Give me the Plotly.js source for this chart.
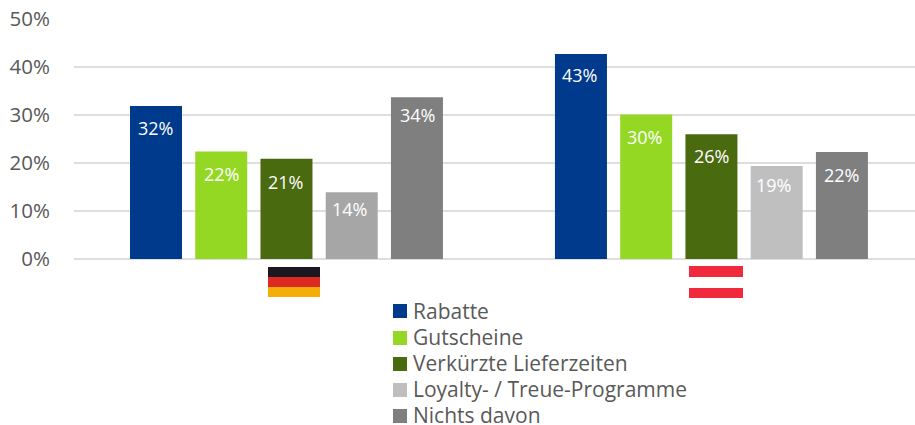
<!DOCTYPE html>
<html><head><meta charset="utf-8">
<script src="https://cdn.plot.ly/plotly-3.0.1.min.js"></script>
<style>html,body{margin:0;padding:0;background:#fff}</style></head>
<body><div id="chart" style="width:915px;height:425px"></div>
<script>
const countries = ['Deutschland', 'Österreich'];
const seriesNames = ['Rabatte', 'Gutscheine', 'Verkürzte Lieferzeiten', 'Loyalty- / Treue-Programme', 'Nichts davon'];
const rabatte = [31.9, 42.7];
const gutscheine = [22.4, 30.1];
const lieferzeiten = [20.9, 26.0];
const loyalty = [13.9, 19.4];
const nichts = [33.7, 22.3];
const rabatteLabels = ['32%', '43%'];
const gutscheineLabels = ['22%', '30%'];
const lieferzeitenLabels = ['21%', '26%'];
const loyaltyLabels = ['14%', '19%'];
const nichtsLabels = ['34%', '22%'];
const seriesColors = ['#003A8C', '#94D824', '#4A6A10', '#BFBFBF', '#7F7F7F'];
const loyaltyColors = ['#A6A6A6', '#BFBFBF'];
const yTicks = [0, 10, 20, 30, 40, 50];
const yTickLabels = ['0%', '10%', '20%', '30%', '40%', '50%'];

const FONT = '"Open Sans", sans-serif';
const W = 841, H = 240, PITCH = 65.25;
const px = v => (v - 74) / W;
const py = v => (259 - v) / H;

function bar(name, y, color) {
  return {
    type: 'bar', name, x: countries, y,
    textposition: 'none',
    marker: { color, line: { width: 0 } },
    hoverinfo: 'name+y'
  };
}
const seriesValues = [rabatte, gutscheine, lieferzeiten, loyalty, nichts];
const seriesLabels = [rabatteLabels, gutscheineLabels, lieferzeitenLabels, loyaltyLabels, nichtsLabels];
const data = seriesNames.map((n, i) => bar(n, seriesValues[i], i === 3 ? loyaltyColors : seriesColors[i]));

function rect(x0, x1, y0, y1, color) {
  return { type: 'rect', xref: 'paper', yref: 'paper', x0, x1, y0, y1, fillcolor: color, line: { width: 0 }, layer: 'above' };
}

// label nudges in pixels, per series then per country
const labelNudgeX = [[0, -1], [0, -1.5], [-1, 0], [-2, -3.5], [0.5, 0]];
const labelNudgeY = [[22.5, 21], [22.5, 22], [23, 21.5], [16.5, 19], [17.5, 23]];
const annotations = [];
seriesNames.forEach((n, i) => {
  countries.forEach((c, j) => {
    annotations.push({
      xref: 'x', yref: 'y', x: c, y: seriesValues[i][j], text: seriesLabels[i][j],
      xshift: (i - 2) * PITCH + labelNudgeX[i][j], yshift: -labelNudgeY[i][j],
      xanchor: 'center', yanchor: 'middle', showarrow: false,
      font: { family: FONT, size: 18, color: '#ffffff' }
    });
  });
});
const legendRows = [311, 338, 364, 390, 416];
const legendTextRows = [310.5, 337, 363, 389, 415];
const legendShapes = [];
seriesNames.forEach((n, i) => {
  const a = {
    xref: 'paper', yref: 'paper', x: px(412), y: py(legendTextRows[i]), text: n,
    xanchor: 'left', yanchor: 'middle', showarrow: false, borderpad: 0,
    font: { family: FONT, size: 21, color: '#595959' }
  };
  if (i === 4) a.height = 20;
  annotations.push(a);
  legendShapes.push(rect(px(393), px(407), py(legendRows[i] - 7), py(legendRows[i] + 7), seriesColors[i]));
});

const layout = {
  width: 915, height: 425,
  margin: { l: 74, r: 0, t: 19, b: 166, pad: 0 },
  paper_bgcolor: '#fff', plot_bgcolor: '#fff',
  barmode: 'group', bargap: 0.2324, bargroupgap: 0.203,
  showlegend: false,
  xaxis: { type: 'category', range: [-0.5, 1.479], showticklabels: false, ticks: '', showgrid: false, zeroline: false, showline: false, fixedrange: true },
  yaxis: {
    range: [0, 50], tickvals: yTicks, ticktext: yTickLabels,
    tickfont: { family: FONT, size: 20.5, color: '#595959' },
    ticks: 'outside', ticklen: 19, tickcolor: 'rgba(0,0,0,0)',
    gridcolor: '#DEDEDE', gridwidth: 2, zeroline: true, zerolinecolor: '#DEDEDE', zerolinewidth: 2,
    showline: false, fixedrange: true
  },
  annotations,
  shapes: [
    rect(px(268), px(320), py(267), py(277), '#1A1720'),
    rect(px(268), px(320), py(277), py(287), '#DC2A22'),
    rect(px(268), px(320), py(287), py(297), '#F5AE08'),
    rect(px(689), px(743), py(266), py(277), '#F02A3C'),
    rect(px(689), px(743), py(288), py(298), '#F02A3C')
  ].concat(legendShapes)
};
Plotly.newPlot('chart', data, layout, { displayModeBar: false, responsive: false });
</script></body></html>
